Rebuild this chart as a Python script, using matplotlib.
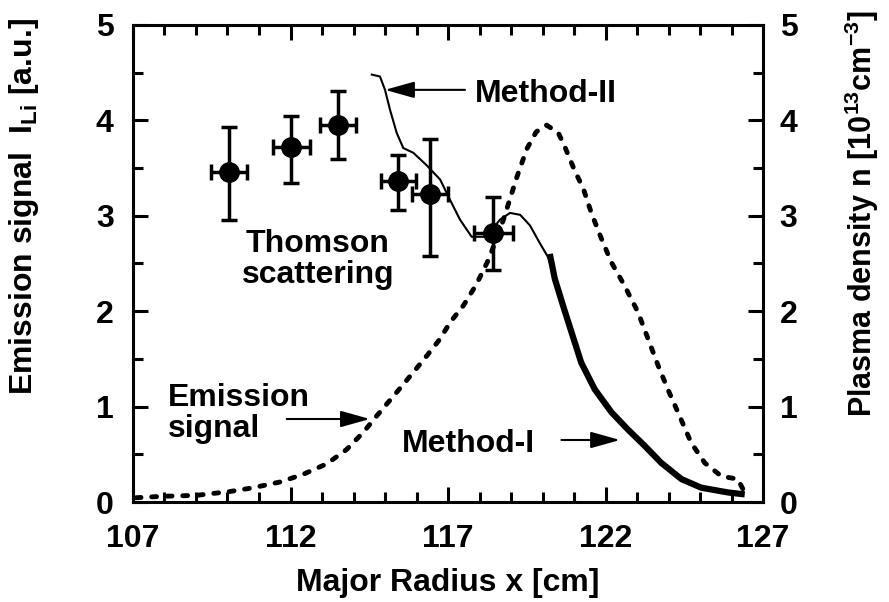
import numpy as np
import matplotlib.pyplot as plt
from matplotlib.ticker import MultipleLocator

plt.rcParams['font.family'] = ['Liberation Sans', 'DejaVu Sans']
plt.rcParams['font.weight'] = 'bold'
plt.rcParams['axes.labelweight'] = 'bold'
plt.rcParams['mathtext.fontset'] = 'custom'
plt.rcParams['mathtext.rm'] = 'Liberation Sans:bold'
plt.rcParams['mathtext.bf'] = 'Liberation Sans:bold'
plt.rcParams['mathtext.it'] = 'Liberation Sans:bold'
plt.rcParams['mathtext.default'] = 'rm'

# ── Thomson scattering points ─────────────────────────────────────────────────
ts_x = [110.05, 112.03, 113.5, 115.42, 116.43, 118.44]
ts_y = [3.46, 3.72, 3.95, 3.36, 3.23, 2.82]
ts_yerr_lo = [0.50, 0.38, 0.35, 0.30, 0.65, 0.39]
ts_yerr_hi = [0.47, 0.33, 0.36, 0.28, 0.57, 0.38]
ts_xerr = [0.58, 0.60, 0.57, 0.55, 0.58, 0.63]

# ── Method-II (thin line) ─────────────────────────────────────────────────────
m2_x = [114.58, 114.84, 115.0, 115.16, 115.37, 115.58, 115.9, 116.32, 116.75,
        117.06, 117.38, 117.75, 118.22, 118.65, 118.97, 119.29, 119.6, 119.92,
        120.17, 120.3]
m2_y = [4.48, 4.46, 4.32, 4.11, 3.87, 3.71, 3.66, 3.53, 3.38,
        3.17, 2.96, 2.78, 2.78, 2.96, 3.03, 3.01, 2.90, 2.71,
        2.57, 2.45]

# ── Method-I (thick line) ─────────────────────────────────────────────────────
m1_x = [120.23, 120.39, 120.65, 120.92, 121.23, 121.66, 122.19, 122.71, 123.24,
        123.77, 124.41, 125.04, 125.89, 126.42]
m1_y = [2.60, 2.34, 2.06, 1.78, 1.46, 1.18, 0.94, 0.76, 0.59,
        0.41, 0.24, 0.15, 0.10, 0.08]

# ── Emission signal (dashed) ──────────────────────────────────────────────────
em_x = [107.1, 107.96, 109.02, 110.08, 110.82, 111.67, 112.4, 113.15, 113.78,
        114.31, 114.73, 115.37, 115.9, 116.32, 116.75, 117.06, 117.49, 117.9,
        118.3, 118.75, 119.18, 119.5, 119.8, 120.13, 120.5, 120.7, 121.0, 121.3,
        121.55, 121.87, 122.19, 122.6, 123.03, 123.35, 123.67, 123.98, 124.3,
        124.72, 125.15, 125.68, 126.2, 126.37, 126.4]
em_y = [0.045, 0.06, 0.07, 0.11, 0.15, 0.21, 0.29, 0.40, 0.55,
        0.73, 0.90, 1.15, 1.36, 1.53, 1.71, 1.88, 2.06, 2.28,
        2.55, 2.95, 3.40, 3.70, 3.88, 3.95, 3.87, 3.73, 3.49, 3.28,
        3.03, 2.76, 2.51, 2.27, 1.99, 1.71, 1.43, 1.18, 0.94,
        0.62, 0.41, 0.27, 0.24, 0.13, 0.06]

x_ticks = [107, 112, 117, 122, 127]

FS = 23

fig = plt.figure(figsize=(8.89, 6.02), dpi=100)
ax = fig.add_axes([0.1496, 0.1661, 0.7087, 0.7924])

ax.plot(em_x, em_y, color='k', lw=3.5, dashes=(1.0, 2.2), dash_capstyle='round')
ax.plot(m2_x, m2_y, color='k', lw=1.5)
ax.plot(m1_x, m1_y, color='k', lw=4.5, solid_capstyle='butt')
ax.errorbar(ts_x, ts_y, yerr=[ts_yerr_lo, ts_yerr_hi], xerr=ts_xerr, fmt='o',
            color='k', ms=14, elinewidth=2.5, capsize=6, capthick=2.5)

ax.set_xlim(107, 127)
ax.set_ylim(0, 5)
ax.set_xticks(x_ticks)
ax.xaxis.set_minor_locator(MultipleLocator(1))
ax.yaxis.set_major_locator(MultipleLocator(1))
ax.yaxis.set_minor_locator(MultipleLocator(0.5))
ax.tick_params(which='both', direction='in', top=True, right=False, width=2.2,
               labelsize=FS)
ax.tick_params(which='major', length=11)
ax.tick_params(which='minor', length=7)
ax.tick_params(axis='x', pad=16)
ax.tick_params(axis='y', pad=14)
for s in ax.spines.values():
    s.set_linewidth(2.2)

ax2 = ax.twinx()
ax2.set_ylim(0, 5)
ax2.yaxis.set_major_locator(MultipleLocator(1))
ax2.yaxis.set_minor_locator(MultipleLocator(0.5))
ax2.tick_params(which='both', direction='in', width=2.2, labelsize=FS, pad=12)
ax2.tick_params(which='major', length=11)
ax2.tick_params(which='minor', length=7)

ax.set_xlabel('Major Radius x [cm]', fontsize=FS, labelpad=10)
ax.set_ylabel('Emission signal  I$_{Li}$ [a.u.]', fontsize=FS)
ax2.set_ylabel('Plasma density n [10$^{13}$cm$^{-3}$]', fontsize=22)
ax.yaxis.set_label_coords(-0.146, 0.62)
ax2.yaxis.set_label_coords(1.127, 0.605)

ax.text(117.86, 4.196, 'Method-II', fontsize=FS, ha='left', va='baseline')
ax.text(112.87, 2.54, 'Thomson\nscattering', fontsize=FS, ha='center', va='center',
        linespacing=1.05)
ax.text(108.12, 0.93, 'Emission\nsignal', fontsize=FS, ha='left', va='center',
        linespacing=1.05)
ax.text(115.53, 0.527, 'Method-I', fontsize=FS, ha='left', va='baseline')

arrow = dict(arrowstyle='-|>,head_length=1.0,head_width=0.28', color='k', lw=1.5,
             mutation_scale=18, shrinkA=0, shrinkB=0)
ax.annotate('', xy=(115.0, 4.32), xytext=(117.54, 4.32), arrowprops=arrow)
ax.annotate('', xy=(114.52, 0.87), xytext=(111.88, 0.87), arrowprops=arrow)
ax.annotate('', xy=(122.46, 0.65), xytext=(120.6, 0.65), arrowprops=arrow)

fig.savefig('out.png', dpi=100)
